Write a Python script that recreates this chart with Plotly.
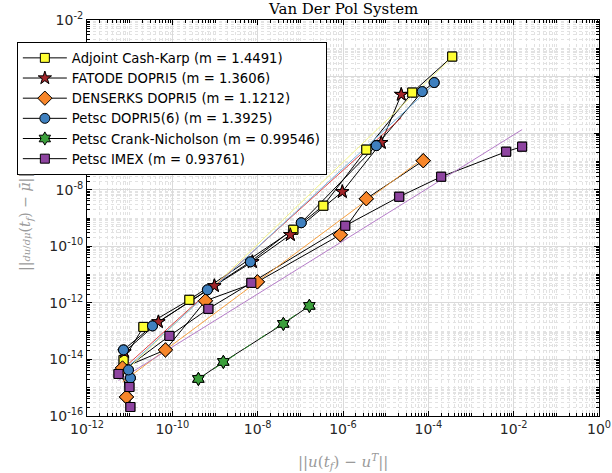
import numpy as np
import plotly.graph_objects as go

# ---------------- data ----------------
adj_x = [7.2e-12, 2.10e-11, 2.51e-10, 6.85e-8, 3.46e-7, 3.52e-6, 4.20e-5, 3.63e-4]
adj_y = [9.6e-15, 1.41e-13, 1.28e-12, 3.84e-10, 2.72e-9, 2.61e-7, 2.72e-5, 5.1e-4]

fat_x = [7.55e-12, 4.72e-11, 9.68e-10, 7.52e-9, 5.83e-8, 9.64e-7, 7.89e-6, 2.32e-5]
fat_y = [1.84e-14, 2.12e-13, 4.0e-12, 2.82e-11, 2.55e-10, 8.49e-9, 4.61e-7, 2.31e-5]

den_x = [8.41e-12, 6.78e-12, 6.89e-11, 5.96e-10, 9.84e-9, 8.65e-7, 3.52e-6, 7.60e-5]
den_y = [4.71e-16, 5.0e-15, 2.17e-14, 1.18e-12, 5.53e-12, 2.55e-10, 4.80e-9, 1.06e-7]

dp6_x = [1.04e-11, 9.38e-12, 7.16e-12, 3.42e-11, 6.64e-10, 6.75e-9, 1.05e-7, 6.03e-6, 7.19e-5, 1.37e-4]
dp6_y = [2.21e-15, 4.25e-15, 2.17e-14, 1.53e-13, 2.88e-12, 2.82e-11, 6.79e-10, 3.61e-7, 2.94e-5, 6.14e-5]

cn_x = [4.08e-10, 1.57e-9, 4.0e-8, 1.63e-7]
cn_y = [2.04e-15, 8.17e-15, 1.81e-13, 7.83e-13]

imex_x = [1.04e-11, 9.89e-12, 5.47e-12, 8.55e-11, 7.0e-10, 7.11e-9, 1.13e-6, 2.08e-5, 2.0e-4, 6.67e-3, 1.58e-2]
imex_y = [2.08e-16, 1.06e-15, 3.07e-15, 6.79e-14, 6.14e-13, 5.1e-12, 5.32e-10, 5.65e-9, 2.88e-8, 2.21e-7, 3.33e-7]

methods = ["Adjoint Cash-Karp", "FATODE DOPRI5", "DENSERKS DOPRI5",
           "Petsc DOPRI5(6)", "Petsc Crank-Nicholson", "Petsc IMEX"]
slopes = [1.4491, 1.3606, 1.1212, 1.3925, 0.99546, 0.93761]

x_tick_vals = [1e-12, 1e-10, 1e-8, 1e-6, 1e-4, 1e-2, 1e0]
x_tick_text = ["10<sup>-12</sup>", "10<sup>-10</sup>", "10<sup>-8</sup>", "10<sup>-6</sup>",
               "10<sup>-4</sup>", "10<sup>-2</sup>", "10<sup>0</sup>"]
y_tick_vals = [1e-16, 1e-14, 1e-12, 1e-10, 1e-8, 1e-6, 1e-4, 1e-2]
y_tick_text = ["10<sup>-16</sup>", "10<sup>-14</sup>", "10<sup>-12</sup>", "10<sup>-10</sup>",
               "10<sup>-8</sup>", "10<sup>-6</sup>", "10<sup>-4</sup>", "10<sup>-2</sup>"]

# ---------------- styles ----------------
xs_all = [adj_x, fat_x, den_x, dp6_x, cn_x, imex_x]
ys_all = [adj_y, fat_y, den_y, dp6_y, cn_y, imex_y]
marker_colors = ["#ffff33", "#a3262a", "#f7862a", "#3f80bf", "#3c9f3c", "#8e44a0"]
symbols = ["square", "star", "diamond", "circle", "hexagram", "square"]
msizes = [9, 10, 11, 10, 10, 9]
fit_colors = ["#f2f28a", "#e04848", "#f5a040", "#78b4e0", "#2f8a2f", "#b57cc8"]
fit_dash = ["solid", "solid", "solid", "solid", "dash", "solid"]

fig = go.Figure()

# data lines (with legend entries)
for i in range(6):
    fig.add_trace(go.Scatter(
        x=xs_all[i], y=ys_all[i], mode="lines+markers",
        name=f"{methods[i]} (m = {slopes[i]})",
        line=dict(color="black", width=1),
        marker=dict(symbol=symbols[i], size=msizes[i], color=marker_colors[i],
                    line=dict(color="black", width=1)),
    ))

# least-squares fit lines with the reported slopes
for i in range(6):
    lx = np.log10(xs_all[i])
    ly = np.log10(ys_all[i])
    b = ly.mean() - slopes[i] * lx.mean()
    fx = np.array([min(xs_all[i]), max(xs_all[i])])
    fy = 10 ** (b + slopes[i] * np.log10(fx))
    fig.add_trace(go.Scatter(
        x=fx, y=fy, mode="lines", showlegend=False, hoverinfo="skip",
        line=dict(color=fit_colors[i], width=1, dash=fit_dash[i]),
    ))

# markers on top
for i in range(6):
    fig.add_trace(go.Scatter(
        x=xs_all[i], y=ys_all[i], mode="markers", showlegend=False,
        marker=dict(symbol=symbols[i], size=msizes[i], color=marker_colors[i],
                    line=dict(color="black", width=1)),
    ))

axis_common = dict(
    type="log", ticks="inside", ticklen=5, tickcolor="black", tickwidth=1,
    showline=True, linecolor="black", linewidth=1, mirror="allticks",
    showgrid=True, gridcolor="#dadada", gridwidth=1, zeroline=False,
    tickfont=dict(family="DejaVu Sans", size=14, color="#262626"),
    minor=dict(dtick="D1", ticks="inside", ticklen=3, tickcolor="black",
               showgrid=True, gridcolor="#e2e2e2", griddash="dot", gridwidth=1),
)

fig.update_layout(
    width=612, height=473,
    margin=dict(l=87, r=13, t=20, b=57, autoexpand=False),
    paper_bgcolor="white", plot_bgcolor="white",
    xaxis=dict(range=[-12, 0], tickmode="array", tickvals=x_tick_vals,
               ticktext=x_tick_text, **axis_common),
    yaxis=dict(range=[-16, -2], tickmode="array", tickvals=y_tick_vals,
               ticktext=y_tick_text, **axis_common),
    legend=dict(x=-0.137, y=0.945, xanchor="left", yanchor="top",
                bgcolor="white", bordercolor="black", borderwidth=1,
                font=dict(family="DejaVu Sans", size=13.2, color="black"),
                itemwidth=44, tracegroupgap=0),
    showlegend=True,
    annotations=[
        dict(text="Van Der Pol System", xref="paper", yref="paper", x=0.5, y=1,
             xanchor="center", yanchor="bottom", yshift=0, showarrow=False,
             font=dict(family="DejaVu Serif", size=15, color="black")),
        dict(text="||<i>u</i>(<i>t<sub>f</sub></i>) − <i>u<sup>T</sup></i>||",
             xref="paper", yref="paper", x=0.5, y=0, xanchor="center",
             yanchor="middle", yshift=-45, showarrow=False,
             font=dict(family="DejaVu Serif", size=15, color="#9a9a9a")),
        dict(text="||<span style='font-size:10px'><i>du</i>/<i>dμ</i></span>"
                  "(<i>t<sub>f</sub></i>) − <i>μ̄</i>||",
             xref="paper", yref="paper", x=0, y=0.5, xanchor="center",
             yanchor="middle", xshift=-61, yshift=-4, textangle=-90, showarrow=False,
             font=dict(family="DejaVu Serif", size=14, color="#9a9a9a")),
    ],
)

# remove the page's default body margin so the figure sits at the window origin
fig.write_html("out.html", config={"displayModeBar": False},
               post_script="document.body.style.margin='0';")
